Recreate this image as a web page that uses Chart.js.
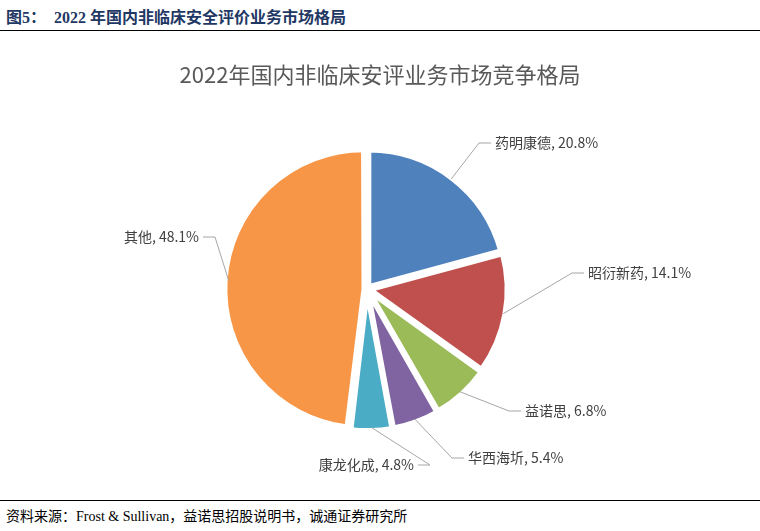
<!DOCTYPE html>
<html><head><meta charset="utf-8">
<script src="https://cdn.jsdelivr.net/npm/chart.js@4"></script>
<style>
body{margin:0;width:760px;height:531px;background:#fff;position:relative;overflow:hidden;font-family:"Noto Sans CJK SC",sans-serif}
#hd{position:absolute;left:6px;top:4px;font-size:16px;font-weight:bold;color:#1F3864;font-family:"Liberation Serif","Noto Sans CJK SC",serif}
#l1{position:absolute;left:0;top:30px;width:760px;height:1px;background:#000}
#l2{position:absolute;left:0;top:500px;width:760px;height:1px;background:#000}
#ft{position:absolute;left:6px;top:505px;font-size:14px;color:#000;font-family:"Liberation Serif","Noto Sans CJK SC",serif}
#wrap{position:absolute;left:0;top:35px;width:760px;height:462px}
</style></head><body>
<div id="hd">图5：&nbsp;&nbsp;2022 年国内非临床安全评价业务市场格局</div>
<div id="l1"></div>
<div id="wrap"><canvas id="c"></canvas></div>
<div id="l2"></div>
<div id="ft">资料来源：Frost &amp; Sullivan，益诺思招股说明书，诚通证券研究所</div>
<script>
const labels = ['药明康德', '昭衍新药', '益诺思', '华西海圻', '康龙化成', '其他'];
const values = [20.8, 14.1, 6.8, 5.4, 4.8, 48.1];
const colors = ['#4F81BD', '#C0504D', '#9BBB59', '#8064A2', '#4BACC6', '#F79646'];

// label anchor positions in canvas px (style/layout, not data)
const labelPos = [
  { x: 495, y: 108, right: true },
  { x: 588, y: 238, right: true },
  { x: 525, y: 376, right: true },
  { x: 468, y: 423, right: true },
  { x: 414, y: 430, right: false },
  { x: 199, y: 202, right: false }
];

const labelPlugin = {
  id: 'outLabels',
  afterDraw(chart) {
    const ctx = chart.ctx;
    ctx.save();
    ctx.fillStyle = '#595959';
    ctx.font = '22px "Noto Sans CJK SC"';
    ctx.textAlign = 'center';
    ctx.textBaseline = 'middle';
    ctx.fillText('2022年国内非临床安评业务市场竞争格局', 380, 40);
    ctx.font = '14px "Noto Sans CJK SC"';
    chart.getDatasetMeta(0).data.forEach((arc, i) => {
      const mid = (arc.startAngle + arc.endAngle) / 2;
      const off = 12;
      const cx = arc.x + Math.cos(mid) * off, cy = arc.y + Math.sin(mid) * off;
      const r = arc.outerRadius;
      const x1 = cx + Math.cos(mid) * (r - 10), y1 = cy + Math.sin(mid) * (r - 10);
      const p = labelPos[i];
      const x3 = p.x + (p.right ? -4 : 4);
      const x2 = x3 + (p.right ? -12 : 12);
      ctx.strokeStyle = '#A6A6A6';
      ctx.lineWidth = 1;
      ctx.beginPath();
      ctx.moveTo(x1, y1); ctx.lineTo(x2, p.y); ctx.lineTo(x3, p.y);
      ctx.stroke();
      ctx.fillStyle = '#404040';
      ctx.textAlign = p.right ? 'left' : 'right';
      ctx.fillText(labels[i] + ', ' + values[i].toFixed(1) + '%', p.x, p.y);
    });
    ctx.restore();
  }
};

new Chart(document.getElementById('c'), {
  type: 'pie',
  data: { labels: labels, datasets: [{ data: values, backgroundColor: colors, borderColor: '#fff', borderWidth: 5, offset: 12, hoverOffset: 12 }] },
  options: {
    responsive: true, maintainAspectRatio: false, animation: false,
    layout: { padding: { top: 108, bottom: 62, left: 222, right: 248 } },
    plugins: { legend: { display: false }, tooltip: { enabled: false } }
  },
  plugins: [labelPlugin]
});
</script>
</body></html>
